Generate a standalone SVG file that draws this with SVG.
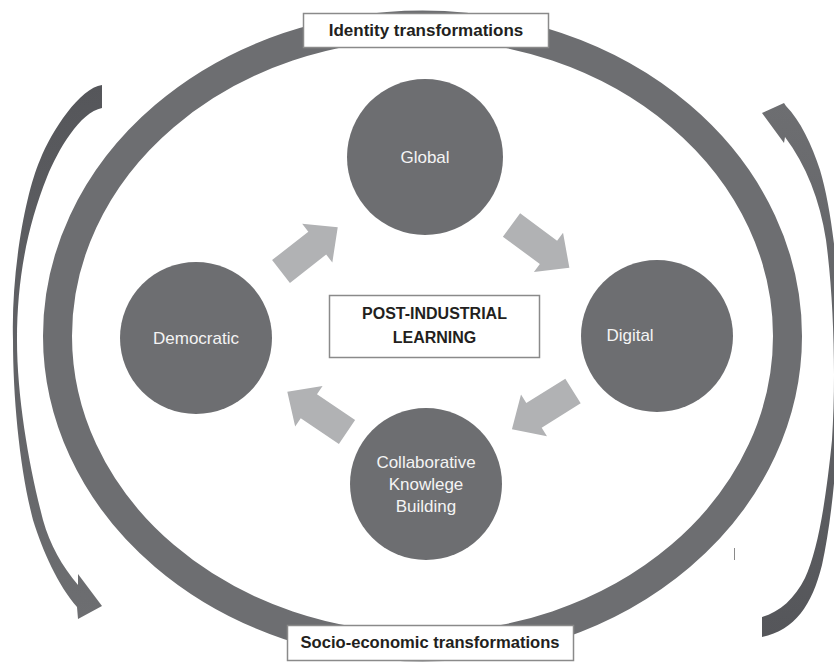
<svg xmlns="http://www.w3.org/2000/svg" width="834" height="662" viewBox="0 0 834 662">
<style>
.node{fill:#6d6e71}
.ntxt{font-family:"Liberation Sans",Arial,sans-serif;font-size:17px;fill:#f4f4f4;text-anchor:middle}
.blk{fill:#b1b2b4}
.lbox{fill:#ffffff;stroke:#8a8a8a;stroke-width:1.5}
.ltxt{font-family:"Liberation Sans",Arial,sans-serif;font-weight:bold;fill:#231f20;text-anchor:middle}
</style>
<defs>
<linearGradient id="gl" x1="0" y1="0" x2="0" y2="1">
<stop offset="0" stop-color="#55565a"/>
<stop offset="1" stop-color="#6d6e71"/>
</linearGradient>
<linearGradient id="gr" x1="0" y1="0" x2="0" y2="1">
<stop offset="0" stop-color="#6d6e71"/>
<stop offset="1" stop-color="#55565a"/>
</linearGradient>
<path id="blockArrow" d="M0,-14.5 L46,-14.5 L46,-24.5 L72,0 L46,24.5 L46,14.5 L0,14.5 Z"/>
</defs>
<rect width="834" height="662" fill="#ffffff"/>

<g id="ring">
<ellipse cx="422.5" cy="336" rx="365" ry="311" fill="none" stroke="#6d6e71" stroke-width="29"/>
</g>

<g id="connectors">
<use href="#blockArrow" class="blk" transform="translate(281,271.5) rotate(-38)"/>
<use href="#blockArrow" class="blk" transform="translate(511.5,225) rotate(36.5)"/>
<use href="#blockArrow" class="blk" transform="translate(573,391) rotate(148)"/>
<use href="#blockArrow" class="blk" transform="translate(347,432) rotate(-146)"/>
<path id="left-cycle" fill="url(#gl)" d="M102,85 C80,88 52,130 40,160 C26,192 11,270 13,340 C13,400 20,470 33,520 C43,552 58,585 77,607 L78,619 L102,606 L78,574 L78,585 C62,566 50,545 43,520 C30,470 17,400 17,340 C17,280 27,227 47,177 C58,150 80,112 102,108 Z"/>
<path id="right-cycle" fill="url(#gr)" d="M786,106 C800,120 812,145 820,170 C832,210 840,280 840,345 C840,430 834,510 822,565 C812,605 795,630 762,637 L762,617 C780,612 795,598 805,578 C818,550 826,500 832,440 C836,380 834,300 826,240 C820,200 806,165 785,137 L784,143 L762,113 L784,103 Z"/>
</g>

<g id="node-global">
<circle class="node" cx="425" cy="157" r="78"/>
<text class="ntxt" x="425" y="163">Global</text>
</g>
<g id="node-democratic">
<circle class="node" cx="196" cy="338" r="76"/>
<text class="ntxt" x="196" y="344">Democratic</text>
</g>
<g id="node-digital">
<circle class="node" cx="657" cy="336" r="76"/>
<text class="ntxt" x="630" y="341">Digital</text>
</g>
<g id="node-collaborative">
<circle class="node" cx="426" cy="484" r="76"/>
<text class="ntxt" x="426" y="468">Collaborative</text>
<text class="ntxt" x="426" y="490">Knowlege</text>
<text class="ntxt" x="426" y="512">Building</text>
</g>

<g id="node-center">
<rect class="lbox" x="329.5" y="295.5" width="210" height="62"/>
<text class="ltxt" x="434.5" y="319" font-size="16">POST-INDUSTRIAL</text>
<text class="ltxt" x="434.5" y="343" font-size="16">LEARNING</text>
</g>

<g id="label-identity">
<rect class="lbox" x="303.5" y="13.5" width="245" height="34"/>
<text class="ltxt" x="426" y="36" font-size="17">Identity transformations</text>
</g>
<g id="label-socio">
<rect class="lbox" x="287.5" y="625.5" width="286" height="35"/>
<text class="ltxt" x="430" y="648" font-size="16.6">Socio-economic transformations</text>
</g>

<line x1="734.5" y1="548" x2="734.5" y2="560" stroke="#8a8a8a" stroke-width="1"/>
</svg>
